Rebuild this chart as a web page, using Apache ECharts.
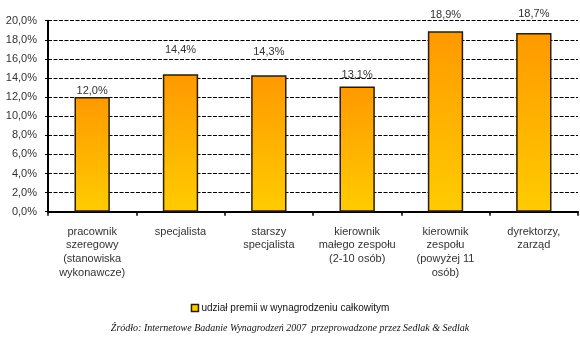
<!DOCTYPE html>
<html>
<head>
<meta charset="utf-8">
<script src="https://cdn.jsdelivr.net/npm/echarts@6/dist/echarts.min.js"></script>
<style>html,body{margin:0;padding:0;background:#fff;}#c{width:580px;height:343px;}</style>
</head>
<body>
<div id="c"></div>
<script>
var categories = [
  'pracownik\nszeregowy\n(stanowiska\nwykonawcze)',
  'specjalista',
  'starszy\nspecjalista',
  'kierownik\nmałego zespołu\n(2-10 osób)',
  'kierownik\nzespołu\n(powyżej 11\nosób)',
  'dyrektorzy,\nzarząd'
];
var values = [12.0, 14.4, 14.3, 13.1, 18.9, 18.7];
var seriesName = 'udział premii w wynagrodzeniu całkowitym';
var sourceText = 'Źródło: Internetowe Badanie Wynagrodzeń 2007  przeprowadzone przez Sedlak & Sedlak';

// vertical nudges of the value labels, as placed in the original picture
var labelNudge = [2, -16, -15, -3, -8, -11];

function pct(v){ return v.toFixed(1).replace('.', ',') + '%'; }

var barData = values.map(function(v, i){
  return { value: v, label: { offset: [0, labelNudge[i]] } };
});

var chart = echarts.init(document.getElementById('c'));
chart.setOption({
  animation: false,
  backgroundColor: '#fff',
  textStyle: { fontFamily: 'Liberation Sans, Arial, sans-serif' },
  grid: { left: 48, right: 2, top: 20.7, bottom: 131.3, containLabel: false },
  legend: {
    data: [seriesName],
    top: 298,
    left: 'center',
    icon: 'rect',
    itemWidth: 7,
    itemHeight: 7,
    itemGap: 4,
    textStyle: { fontSize: 10, color: '#111', fontFamily: 'Liberation Sans, Arial, sans-serif', padding: [0,0,0,-2] },
    itemStyle: { color: '#FFCC00', borderColor: '#2b1d00', borderWidth: 1.5 }
  },
  xAxis: {
    type: 'category',
    data: categories,
    axisLine: { lineStyle: { color: '#000', width: 2 } },
    axisTick: { show: true, alignWithLabel: false, length: 4, lineStyle: { color: '#000', width: 1.5 } },
    axisLabel: { interval: 0, color: '#333', fontSize: 11, lineHeight: 13.7, margin: 13 },
    splitLine: { show: false }
  },
  yAxis: {
    type: 'value',
    min: 0, max: 20, interval: 2,
    axisLine: { show: true, lineStyle: { color: '#000', width: 2 } },
    axisTick: { show: true, length: 3, lineStyle: { color: '#000', width: 1 } },
    axisLabel: { color: '#333', fontSize: 11, margin: 11, formatter: function(v){ return pct(v); } },
    splitLine: { show: true, lineStyle: { color: '#000', width: 1.2, type: [4, 1.5] } }
  },
  series: [{
    name: seriesName,
    type: 'bar',
    data: barData,
    barWidth: '40%',
    itemStyle: {
      color: new echarts.graphic.LinearGradient(0, 0, 0, 1, [
        { offset: 0, color: '#FF9900' },
        { offset: 1, color: '#FFCC00' }
      ]),
      borderColor: '#2b1d00',
      borderWidth: 1.5
    },
    label: {
      show: true,
      position: 'top',
      distance: 3,
      color: '#333',
      fontSize: 11,
      formatter: function(p){ return pct(p.value); }
    }
  }],
  graphic: [{
    type: 'text',
    left: 'center',
    top: 323,
    style: {
      text: sourceText,
      fontFamily: 'Liberation Serif, DejaVu Serif, serif',
      fontStyle: 'italic',
      fontSize: 10,
      fill: '#111'
    }
  }]
});
</script>
</body>
</html>
